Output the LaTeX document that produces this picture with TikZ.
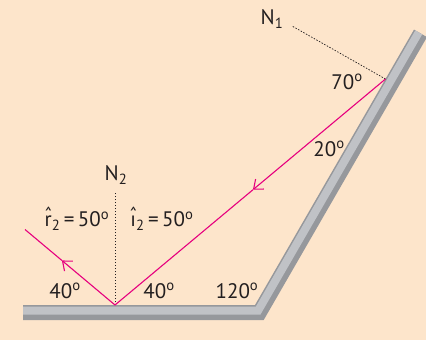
\documentclass[tikz,border=0pt]{standalone}
\usepackage{fontspec}
\setmainfont{PT Sans}
\usetikzlibrary{calc,arrows.meta}
\definecolor{bgpeach}{RGB}{253,229,203}
\definecolor{raypink}{RGB}{230,0,126}
\definecolor{mirdark}{RGB}{150,152,156}
\definecolor{mirlight}{RGB}{192,194,198}
\definecolor{inkgray}{RGB}{35,31,32}
\newcommand{\dg}{\textsuperscript{o}}
\newcommand{\hatof}[1]{\ooalign{#1\cr\hidewidth\raisebox{0.22em}{\char"02C6}\hidewidth\cr}}

\begin{document}
\begin{tikzpicture}[x=1pt, y=-1pt, >={Straight Barb[length=8pt,width=13pt]},
  ray/.style={draw=raypink, line width=1.1pt},
  normal/.style={draw=inkgray, line width=0.7pt, dash pattern=on 1.5pt off 1.5pt},
  lbl/.style={text=inkgray, font=\fontsize{21}{24}\selectfont, inner sep=0pt}]
\fill[bgpeach] (0,0) rectangle (426,340);
\useasboundingbox (0,0) rectangle (426,340);
% the two mirrors (surface on the inner side)
\fill[mirdark] (23,305) -- (255,305) -- (414,29.6) -- (427,37.1) -- (263.7,320) -- (23,320) -- cycle;
\fill[mirlight] (23,306.5) -- (255.9,306.5) -- (415.3,30.4) -- (422.2,34.4) -- (260.5,314.5) -- (23,314.5) -- cycle;
% points of incidence
\coordinate (P1) at (385.5,79);
\coordinate (P2) at (115,305);
\coordinate (R2) at (25,229.5);
\coordinate (N1) at (292,26);
\coordinate (N2) at (115,193);
\coordinate (A1) at ($(P1)!0.49!(P2)$);
\coordinate (A2) at ($(P2)!0.59!(R2)$);
% normals
\draw[normal] (P1) -- (N1);
\draw[normal] (P2) -- (N2);
% rays
\draw[ray, ->] (P1) -- (A1);
\draw[ray] (A1) -- (P2);
\draw[ray, ->] (P2) -- (A2);
\draw[ray] (A2) -- (R2);
% labels
\node[lbl] (n1) at (272,19) {N\textsubscript{1}};
\node[lbl] (n2) at (116,175) {N\textsubscript{2}};
\node[lbl] (a70) at (347,82) {70\dg};
\node[lbl] (a20) at (329,149) {20\dg};
\node[lbl] (a120) at (237,291) {120\dg};
\node[lbl] (a40l) at (65,291) {40\dg};
\node[lbl] (a40r) at (159,291) {40\dg};
\node[lbl] (r2) at (77,221) {\hatof{r}\textsubscript{2}\,=\,50\dg};
\node[lbl] (i2) at (162,221) {\hatof{\i}\textsubscript{2}\,=\,50\dg};
\end{tikzpicture}
\end{document}
